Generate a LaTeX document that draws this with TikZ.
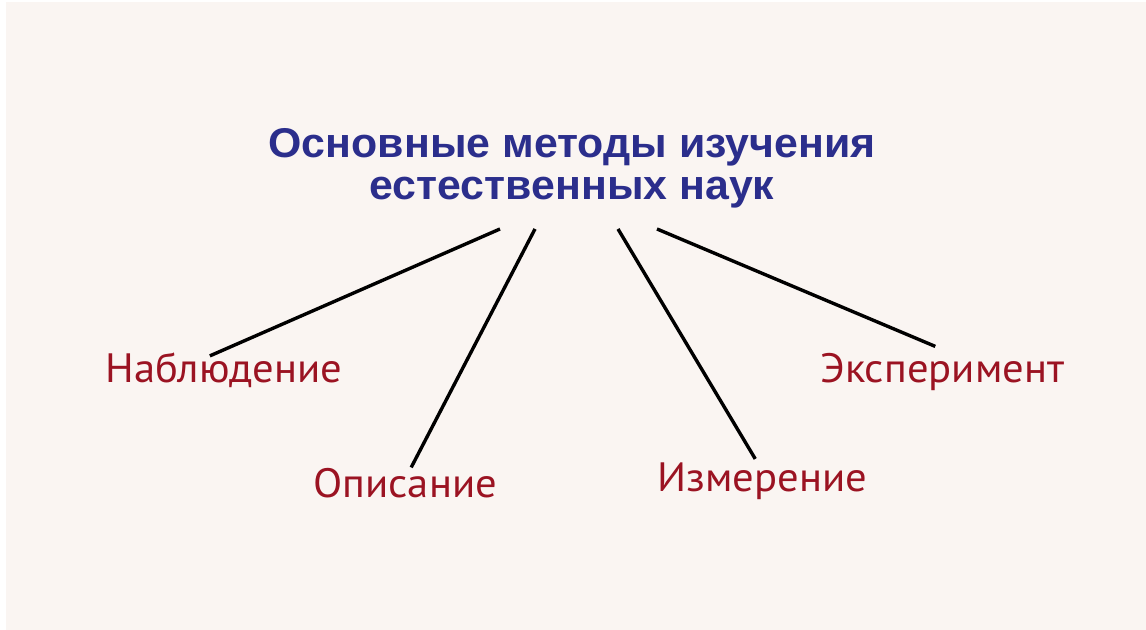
\documentclass[tikz,border=0pt]{standalone}
\usepackage{fontspec}
\setmainfont{PT Sans}[FakeStretch=1.04]
\newfontfamily\titlefont{Liberation Sans}[FakeStretch=1.03]
\definecolor{paper}{HTML}{FAF5F2}
\definecolor{titleblue}{HTML}{2B2E8C}
\definecolor{methodred}{HTML}{9B1322}

\tikzset{
  heading/.style={text=titleblue,font=\titlefont\bfseries\fontsize{20.8}{21.25}\selectfont,align=center,inner sep=0pt},
  method/.style={text=methodred,font=\fontsize{20.5}{24}\selectfont,inner sep=0pt},
  branch/.style={draw=black,line width=1.7pt}
}

\begin{document}
\begin{tikzpicture}[x=0.5pt, y=-0.5pt]
        \useasboundingbox (0,0) rectangle (1146,630);
        \fill[white] (0,0) rectangle (1146,630);
        \fill[paper] (6,2) rectangle (1146,630);

        \node[heading,anchor=north] (title) at (572,128) {Основные методы изучения\\естественных наук};

        \node[method,anchor=base west] (obs) at (105,383) {Наблюдение};
        \node[method,anchor=base west] (desc) at (313,497) {Описание};
        \node[method,anchor=base west] (meas) at (657,492) {Измерение};
        \node[method,anchor=base west] (exp) at (820,383) {Эксперимент};

        \draw[branch] ([shift={(-72,20)}]title.south) -- ([shift={(-14,3)}]obs.north);
        \draw[branch] ([shift={(-37,20)}]title.south) -- ([shift={(6,0)}]desc.north);
        \draw[branch] ([shift={(46,20)}]title.south) -- ([shift={(-7,-4)}]meas.north);
        \draw[branch] ([shift={(85,20)}]title.south) -- ([shift={(-7,-7)}]exp.north);
    \end{tikzpicture}
\end{document}
